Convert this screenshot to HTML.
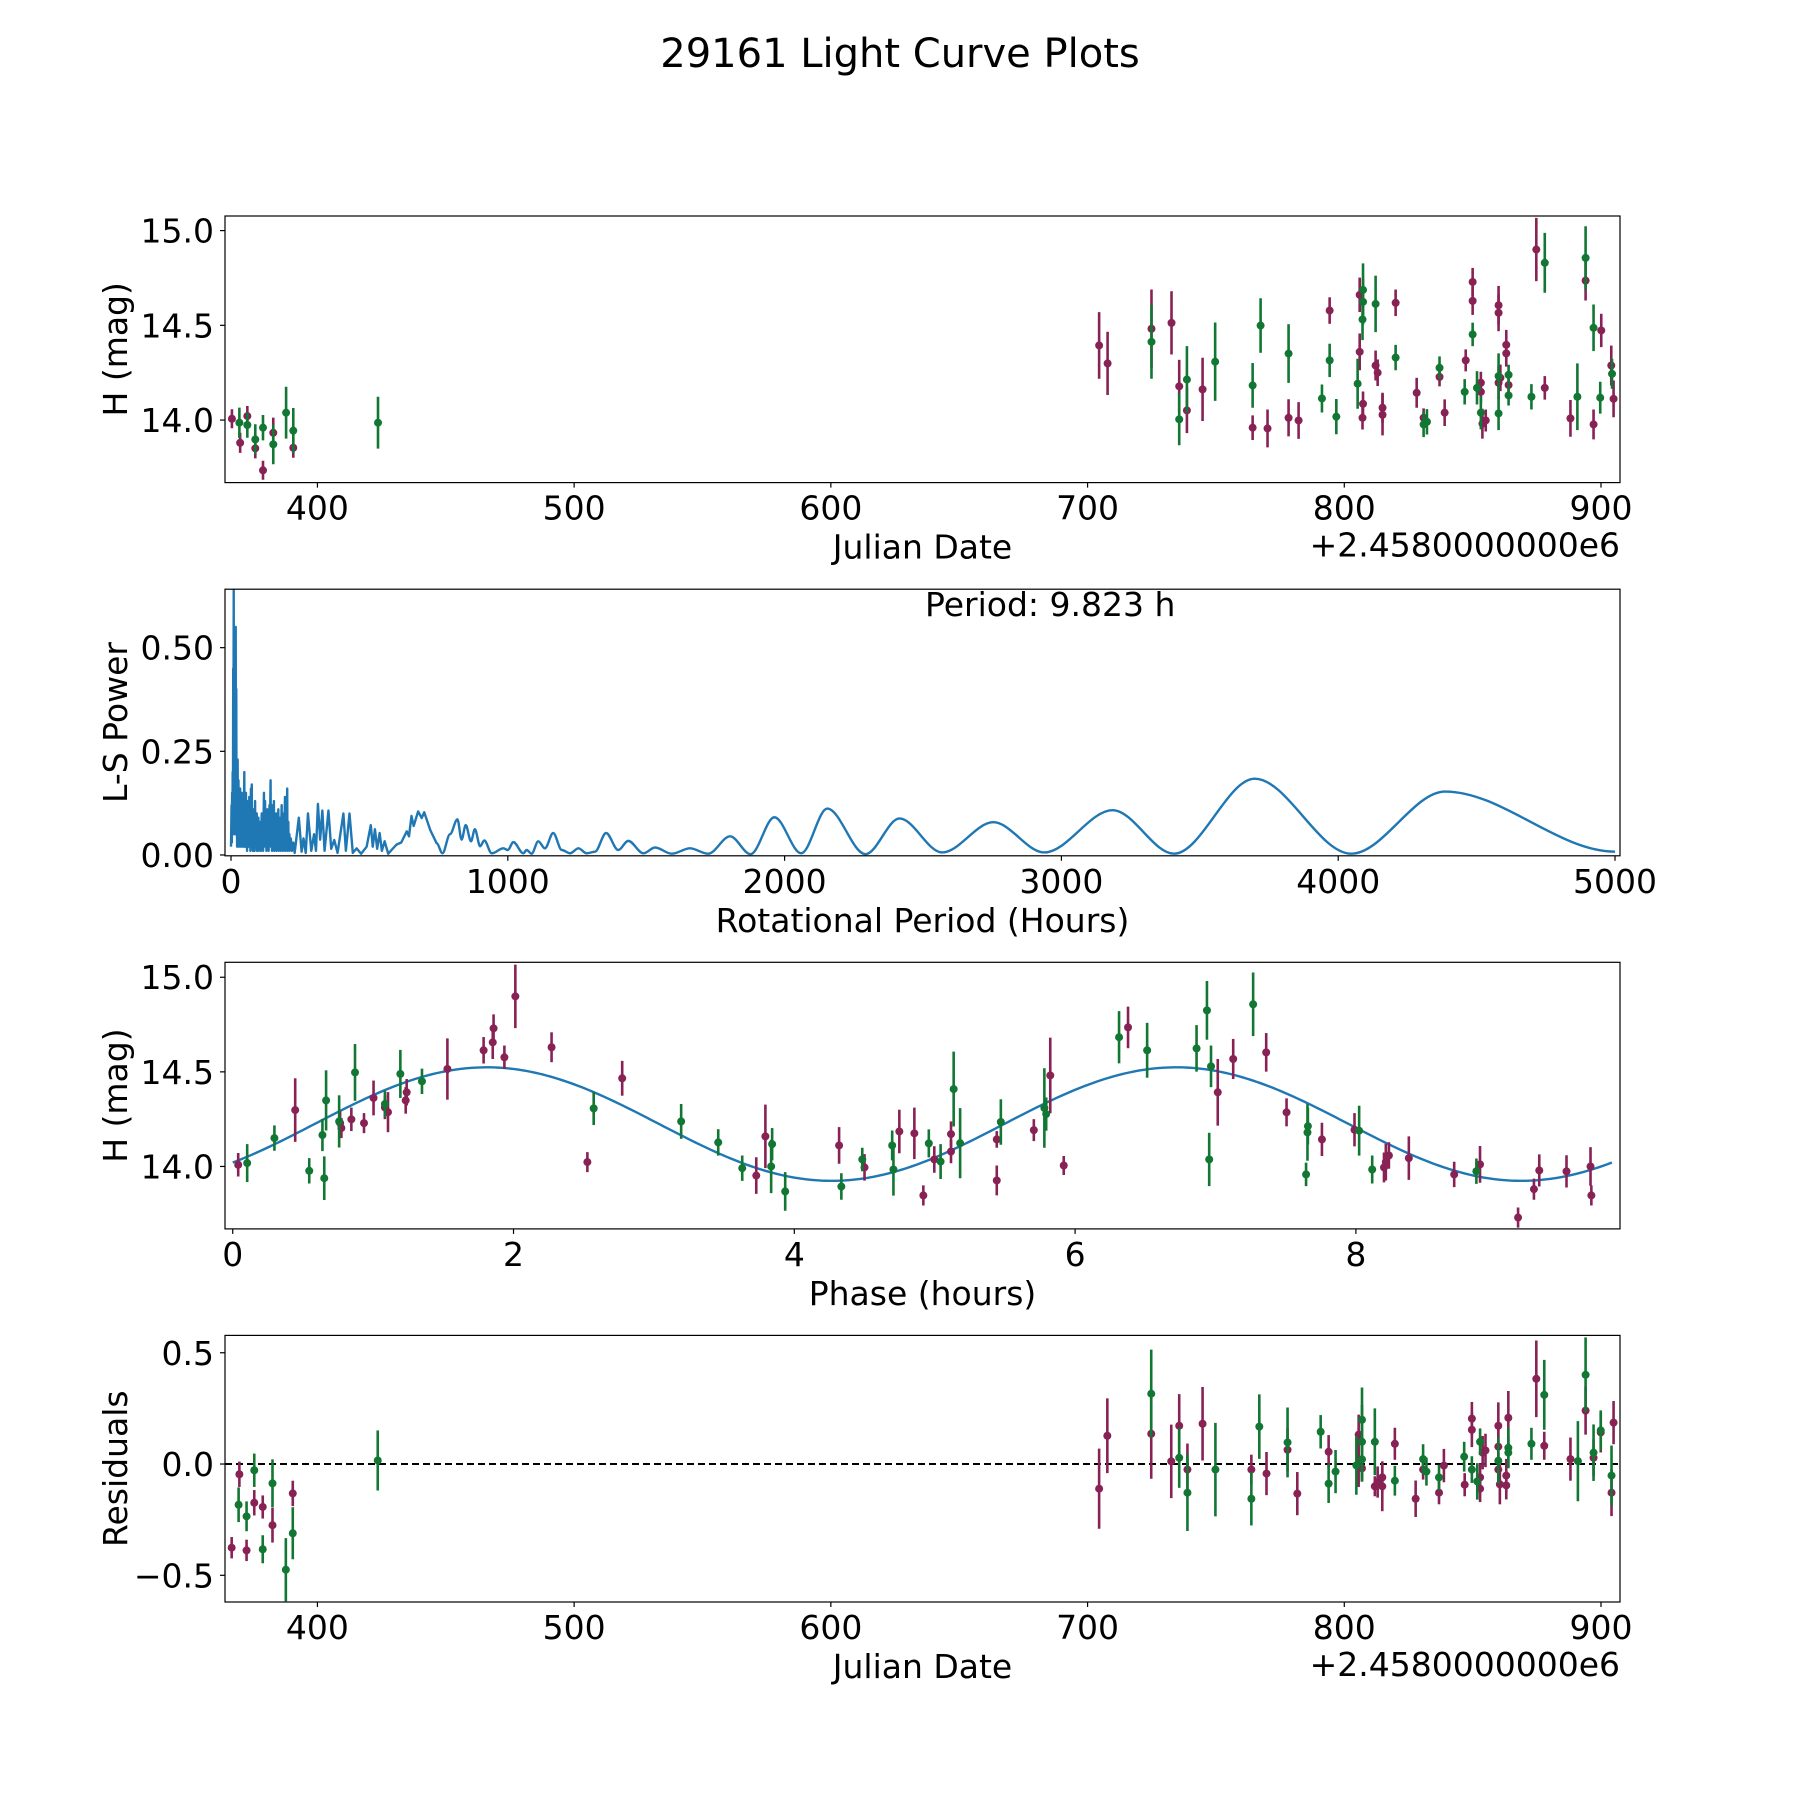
<!DOCTYPE html>
<html><head><meta charset="utf-8"><title>29161 Light Curve Plots</title>
<style>
html,body{margin:0;padding:0;background:#fff;}
svg{display:block;font-family:"DejaVu Sans","Liberation Sans",sans-serif;}
</style></head>
<body>
<svg id="fig" xmlns="http://www.w3.org/2000/svg" width="1800" height="1800" viewBox="0 0 1800 1800">
<rect x="0" y="0" width="1800" height="1800" fill="#fff"/>
<text x="900" y="67" text-anchor="middle" font-size="40" fill="#000">29161 Light Curve Plots</text>
</svg>
<script>
// ---------- Panel 1 : light curve ----------
const lcMaroonDate=[366.7,369.9,372.7,375.8,378.8,382.8,390.6,704.5,707.8,724.9,732.7,735.7,738.7,744.8,764.3,770.1,778.3,782.2,794.3,806.0,806.0,807.3,807.1,812.2,813.0,814.9,814.9,820.0,828.2,830.9,839.1,837.1,847.3,850.0,850.0,853.2,853.2,853.8,855.1,860.1,860.1,860.8,860.1,863.1,863.1,864.0,878.1,874.8,888.1,894.0,897.1,900.1,904.0,904.9];
const lcMaroonMag=[14.007,13.880,14.021,13.851,13.735,13.933,13.854,14.394,14.299,14.482,14.513,14.178,14.051,14.162,13.960,13.956,14.012,13.998,14.578,14.661,14.360,14.086,14.012,14.288,14.250,14.065,14.028,14.619,14.144,14.012,14.039,14.228,14.315,14.729,14.629,14.197,14.149,13.981,13.998,14.606,14.566,14.223,14.197,14.397,14.352,14.185,14.170,14.900,14.009,14.736,13.977,14.473,14.288,14.112];
const lcMaroonErr=[.05,.053,.053,.053,.05,.08,.053,.176,.167,.207,.167,.14,.12,.167,.065,.10,.098,.097,.07,.091,.097,.065,.062,.079,.07,.079,.109,.07,.079,.05,.07,.05,.058,.074,.074,.058,.06,.079,.058,.102,.097,.07,.088,.079,.07,.067,.062,.167,.097,.105,.079,.088,.105,.097];
const lcGreenDate=[369.6,372.7,375.8,378.8,382.8,387.8,390.6,423.6,724.9,735.7,738.7,749.7,764.3,767.4,778.3,791.3,796.9,794.3,807.3,807.3,807.1,805.2,812.2,820.0,830.9,832.2,837.1,846.9,850.0,851.7,853.2,860.1,860.1,864.0,864.0,872.9,878.1,890.8,894.0,897.1,899.7,904.3];
const lcGreenMag=[13.986,13.974,13.898,13.960,13.872,14.039,13.944,13.986,14.413,14.004,14.214,14.308,14.183,14.499,14.351,14.114,14.018,14.315,14.687,14.624,14.531,14.192,14.613,14.330,13.977,13.991,14.276,14.149,14.452,14.170,14.039,14.232,14.035,14.239,14.130,14.123,14.830,14.123,14.856,14.487,14.118,14.244];
const lcGreenErr=[.08,.067,.08,.067,.105,.137,.12,.137,.195,.137,.176,.207,.118,.144,.155,.074,.093,.088,.14,.12,.109,.132,.149,.067,.067,.067,.06,.067,.062,.088,.088,.12,.088,.053,.053,.067,.158,.176,.167,.123,.084,.079];
const dateTicks=[400,500,600,700,800,900];
const magTicks=[14.0,14.5,15.0];
const magTickLabels=["14.0","14.5","15.0"];

// ---------- Panel 2 : periodogram ----------
const pgPeriod=[0,2,3,4,5,6,7,8,9,9.8,10.6,11.5,13,14,15,16,17,18,19,20,21,22,24,25,27,28,30,31,33,34,36,37,39,40,42,43,45,46,48,49,51,52,54,55,57,58,60,61,63,64,66,67,69,70,72,73,75,76,78,79,81,82,84,85,87,88,90,91,93,94,96,97,99,100,103,104,107,108,111,112,115,116,119,120,123,124,127,128,131,132,135,136,139,140,143,144,147,148,151,152,155,156,159,160,163,164,167,168,171,172,175,176,179,180,183,184,187,188,191,192,195,196,199,200,203,204,207,208,211,212,216,220,225,230,245,255,262,270,278,290,300,307,314,322,330,338,352,362,373,385,406,415,428,440,454,470,490,505,512,520,528,537,545,555,568,580,598,615,635,643,652,660,676,689,698,720,743,764,791,818,833,848,867,881,900,915,942,984,1000,1020,1056,1068,1086,1110,1134,1164,1195,1225,1255,1285,1315,1355,1399,1435,1490,1532,1592,1658,1724,1803,1877,1963,2060,2154,2292,2415,2569,2754,2938,3185,3407,3698,4047,4386,5000];
const pgPower=[0.02,0.12,0.03,0.15,0.05,0.2,0.1,0.45,0.3,0.641,0.2,0.05,0.35,0.1,0.25,0.05,0.55,0.1,0.4,0.05,0.22,0.02,0.23,0.03,0.18,0.02,0.14,0.03,0.16,0.02,0.12,0.04,0.15,0.02,0.11,0.03,0.14,0.02,0.2,0.03,0.12,0.02,0.15,0.04,0.1,0.01,0.13,0.03,0.09,0.02,0.14,0.03,0.08,0.01,0.16,0.02,0.17,0.03,0.09,0.01,0.11,0.02,0.06,0.01,0.13,0.02,0.07,0.03,0.1,0.01,0.05,0.02,0.09,0.01,0.06,0.02,0.08,0.01,0.1,0.02,0.06,0.01,0.15,0.02,0.13,0.03,0.08,0.01,0.11,0.02,0.07,0.01,0.12,0.03,0.18,0.02,0.12,0.01,0.1,0.02,0.13,0.01,0.07,0.02,0.1,0.01,0.06,0.02,0.11,0.01,0.09,0.02,0.05,0.01,0.12,0.02,0.08,0.01,0.1,0.02,0.14,0.01,0.07,0.02,0.16,0.01,0.08,0.02,0.05,0.01,0.04,0.01,0.03,0.005,0.09,0.008,0.04,0.005,0.10,0.01,0.05,0.01,0.123,0.037,0.107,0.01,0.107,0.015,0.036,0.005,0.10,0.01,0.10,0.005,0.016,0.003,0.02,0.072,0.02,0.062,0.015,0.053,0.01,0.033,0.003,0.012,0.025,0.03,0.057,0.045,0.094,0.07,0.105,0.089,0.103,0.06,0.028,0.004,0.050,0.086,0.037,0.072,0.033,0.062,0.021,0.035,0.004,0.016,0.012,0.031,0.004,0.012,0.003,0.033,0.016,0.053,0.012,0.004,0.016,0.004,0.008,0.053,0.012,0.034,0.004,0.018,0.003,0.016,0.003,0.045,0.002,0.091,0.004,0.112,0.002,0.088,0.006,0.079,0.006,0.108,0.003,0.184,0.003,0.153,0.008];
const periodTicks=[0,1000,2000,3000,4000,5000];
const powerTicks=[0,0.25,0.5];
const powerTickLabels=["0.00","0.25","0.50"];
const bestPeriod=[9.823];

// ---------- Panel 3 : phased ----------
const phMaroonPhase=[0.039,0.445,0.765,0.774,0.845,0.935,1.003,1.084,1.106,1.232,1.239,1.529,1.787,1.852,1.858,1.935,2.013,2.271,2.526,2.774,3.729,3.794,4.319,4.500,4.748,4.855,4.919,4.997,5.116,5.116,5.442,5.442,5.706,5.823,5.919,6.377,7.016,7.126,7.361,7.506,7.758,7.990,8.200,8.213,8.235,8.377,8.700,8.884,9.155,9.268,9.306,9.500,9.671,9.677];
const phMaroonMag=[14.009,14.298,14.229,14.203,14.249,14.229,14.362,14.312,14.287,14.349,14.392,14.515,14.614,14.656,14.730,14.577,14.899,14.630,14.023,14.466,13.952,14.159,14.111,13.995,14.185,14.175,13.847,14.037,14.171,14.079,14.143,13.926,14.192,14.481,14.005,14.735,14.392,14.568,14.603,14.286,14.143,14.194,13.995,14.023,14.058,14.044,13.958,14.011,13.730,13.880,13.979,13.974,14.000,13.847];
const phMaroonErr=[.062,.168,.062,.053,.062,.053,.092,.062,.106,.07,.07,.162,.07,.088,.074,.062,.168,.079,.053,.092,.097,.168,.097,.07,.115,.136,.053,.07,.067,.062,.044,.079,.058,.2,.05,.11,.176,.106,.102,.074,.088,.088,.079,.097,.07,.115,.067,.097,.053,.056,.085,.085,.102,.053];
const phGreenPhase=[0.103,0.297,0.545,0.639,0.652,0.665,0.758,0.871,1.084,1.194,1.348,2.571,3.194,3.458,3.629,3.842,3.835,3.935,4.335,4.484,4.697,4.706,4.958,5.042,5.135,5.181,5.471,5.781,5.794,6.313,6.513,6.865,6.939,6.968,6.955,7.268,7.658,7.655,7.645,8.023,8.116,8.858];
const phGreenMag=[14.018,14.150,13.977,14.166,13.938,14.349,14.238,14.497,14.330,14.489,14.450,14.307,14.238,14.127,13.991,14.118,14.000,13.868,13.894,14.037,14.111,13.984,14.122,14.026,14.409,14.123,14.235,14.309,14.277,14.683,14.614,14.624,14.825,14.529,14.037,14.857,14.213,14.180,13.958,14.189,13.984,13.975];
const phGreenErr=[.10,.067,.067,.085,.115,.159,.138,.15,.07,.127,.067,.088,.092,.07,.067,.085,.141,.102,.07,.062,.079,.138,.074,.092,.198,.185,.12,.21,.088,.138,.145,.123,.155,.11,.141,.168,.097,.15,.062,.132,.074,.067];
const phaseTicks=[0,2,4,6,8];
const fitMean=[14.224];
const fitAmp=[0.300];
const fitPeakPhase=[1.81];

// ---------- Panel 4 : residuals ----------
const rsMaroonDate=[366.6,369.6,372.4,375.4,378.7,382.5,390.4,704.5,707.7,724.8,732.6,735.7,738.9,744.8,763.8,769.7,777.9,781.7,793.9,805.6,805.6,806.9,811.9,813.0,814.8,814.8,819.7,827.8,830.7,836.9,838.8,846.9,849.7,849.7,852.9,852.9,853.9,855.0,860.0,860.0,860.0,860.6,863.1,863.1,863.9,874.8,877.9,888.1,894.0,897.1,899.9,904.1,904.9];
const rsMaroonRes=[-0.376,-0.046,-0.388,-0.174,-0.193,-0.275,-0.132,-0.111,0.127,0.136,0.012,0.172,-0.025,0.181,-0.025,-0.043,0.064,-0.133,0.055,0.132,-0.013,-0.019,-0.100,-0.081,-0.060,-0.100,0.091,-0.156,-0.025,-0.129,-0.007,-0.093,0.204,0.154,-0.060,-0.111,0.051,0.061,0.172,0.078,-0.025,-0.091,-0.052,-0.096,0.208,0.383,0.082,0.022,0.240,0.028,0.142,-0.129,0.186];
const rsMaroonErr=[.048,.057,.048,.057,.052,.078,.057,.18,.168,.202,.165,.142,.117,.165,.067,.097,.097,.097,.075,.09,.09,.06,.045,.07,.067,.112,.072,.082,.045,.052,.075,.052,.075,.078,.063,.06,.075,.075,.105,.105,.075,.09,.075,.063,.12,.172,.063,.097,.108,.082,.09,.105,.097];
const rsGreenDate=[369.3,372.4,375.4,378.7,382.5,387.7,390.4,423.5,724.8,735.7,738.9,749.8,763.8,766.9,777.9,790.8,793.9,796.6,806.9,806.9,806.9,804.7,811.9,819.7,830.7,832.0,836.9,846.7,849.7,851.8,852.9,860.0,863.9,863.9,872.9,877.9,891.0,894.0,897.1,899.9,904.1];
const rsGreenRes=[-0.183,-0.235,-0.028,-0.383,-0.087,-0.475,-0.311,0.016,0.316,0.028,-0.129,-0.025,-0.156,0.168,0.097,0.145,-0.088,-0.034,0.199,0.100,0.021,-0.006,0.100,-0.075,0.022,-0.034,-0.060,0.033,-0.025,-0.078,0.100,0.015,0.073,0.051,0.091,0.311,0.013,0.401,0.051,0.151,-0.052];
const rsGreenErr=[.078,.067,.075,.063,.108,.142,.117,.135,.198,.135,.172,.21,.12,.145,.157,.075,.087,.097,.145,.165,.1,.132,.15,.067,.067,.063,.057,.067,.06,.082,.06,.105,.09,.07,.072,.157,.18,.168,.127,.09,.135];
const resTicks=[-0.5,0.0,0.5];
const resTickLabels=["\u22120.5","0.0","0.5"];

// ---------- rendering ----------
const NS="http://www.w3.org/2000/svg";
const svg=document.getElementById('fig');
const MAROON="#882255", GREEN="#117733", BLUE="#1f77b4";
const AX=[
 {x0:225,y0:216,w:1395,h:266.6,xmin:364.0,xmax:907.4,ymin:13.670,ymax:15.077,name:'light-curve'},
 {x0:225,y0:589.2,w:1395,h:266.6,xmin:-21.7,xmax:5018,ymin:-0.002,ymax:0.641,name:'periodogram'},
 {x0:225,y0:962.3,w:1395,h:266.6,xmin:-0.055,xmax:9.881,ymin:13.670,ymax:15.079,name:'phased-curve'},
 {x0:225,y0:1335.4,w:1395,h:266.6,xmin:364.0,xmax:907.4,ymin:-0.620,ymax:0.578,name:'residuals'}
];
function sx(a,v){return a.x0+(v-a.xmin)/(a.xmax-a.xmin)*a.w;}
function sy(a,v){return a.y0+a.h-(v-a.ymin)/(a.ymax-a.ymin)*a.h;}
function el(tag,parent){const e=document.createElementNS(NS,tag);parent.appendChild(e);return e;}

const defs=el('defs',svg);
AX.forEach((a,i)=>{
  const cp=el('clipPath',defs); cp.setAttribute('id','clip'+i);
  const r=el('rect',cp); r.setAttribute('x',a.x0); r.setAttribute('y',a.y0); r.setAttribute('width',a.w); r.setAttribute('height',a.h);
  a.g=el('g',svg);
  
  
  a.plot=el('g',a.g); a.plot.setAttribute('clip-path','url(#clip'+i+')');
  
  
});

function frame(a){
  const r=el('rect',a.g);
  r.setAttribute('x',a.x0); r.setAttribute('y',a.y0); r.setAttribute('width',a.w); r.setAttribute('height',a.h);
  r.setAttribute('fill','none'); r.setAttribute('stroke','#000'); r.setAttribute('stroke-width','1.2');
  
  
}
function xTicks(a,vals,labels){
  vals.forEach((v,i)=>{
    const x=sx(a,v), yb=a.y0+a.h;
    const t=el('line',a.g); t.setAttribute('x1',x); t.setAttribute('x2',x); t.setAttribute('y1',yb); t.setAttribute('y2',yb+5);
    t.setAttribute('stroke','#000'); t.setAttribute('stroke-width','1.2');
    
    
    const tx=el('text',a.g); tx.setAttribute('x',x); tx.setAttribute('y',yb+37); tx.setAttribute('text-anchor','middle'); tx.setAttribute('font-size','33');
    tx.textContent=labels?labels[i]:String(v);
    
    
  });
}
function yTicks(a,vals,labels){
  vals.forEach((v,i)=>{
    const y=sy(a,v);
    const t=el('line',a.g); t.setAttribute('x1',a.x0-5); t.setAttribute('x2',a.x0); t.setAttribute('y1',y); t.setAttribute('y2',y);
    t.setAttribute('stroke','#000'); t.setAttribute('stroke-width','1.2');
    
    
    const tx=el('text',a.g); tx.setAttribute('x',a.x0-11); tx.setAttribute('y',y+12); tx.setAttribute('text-anchor','end'); tx.setAttribute('font-size','33');
    tx.textContent=labels[i];
    
    
  });
}
function xLabel(a,txt){
  const tx=el('text',a.g); tx.setAttribute('x',a.x0+a.w/2); tx.setAttribute('y',a.y0+a.h+76); tx.setAttribute('text-anchor','middle'); tx.setAttribute('font-size','33');
  tx.textContent=txt;
  
  
}
function yLabel(a,txt){
  const cx=127, cy=a.y0+a.h/2;
  const tx=el('text',a.g); tx.setAttribute('x',cx); tx.setAttribute('y',cy); tx.setAttribute('text-anchor','middle');
  tx.setAttribute('transform','rotate(-90 '+cx+' '+cy+')'); tx.setAttribute('font-size','33');
  tx.textContent=txt;
  
  
}
function offsetText(a){
  const tx=el('text',a.g); tx.setAttribute('x',a.x0+a.w); tx.setAttribute('y',a.y0+a.h+74); tx.setAttribute('text-anchor','end'); tx.setAttribute('font-size','33');
  tx.textContent='+2.4580000000e6';
  
  
}
function errPoints(a,xs,ys,es,color,label){
  xs.forEach((xv,i)=>{
    const x=sx(a,xv), y=sy(a,ys[i]);
    const l=el('line',a.plot); l.setAttribute('x1',x); l.setAttribute('x2',x);
    l.setAttribute('y1',sy(a,ys[i]-es[i])); l.setAttribute('y2',sy(a,ys[i]+es[i]));
    l.setAttribute('stroke',color); l.setAttribute('stroke-width','2.6');
    
    
  });
  xs.forEach((xv,i)=>{
    const c=el('circle',a.plot); c.setAttribute('cx',sx(a,xv)); c.setAttribute('cy',sy(a,ys[i])); c.setAttribute('r','4');
    c.setAttribute('fill',color);
    
    
  });
}

// Panel 1
const a1=AX[0];
errPoints(a1,lcMaroonDate,lcMaroonMag,lcMaroonErr,MAROON,'filter-1');
errPoints(a1,lcGreenDate,lcGreenMag,lcGreenErr,GREEN,'filter-2');
frame(a1); xTicks(a1,dateTicks); yTicks(a1,magTicks,magTickLabels);
xLabel(a1,'Julian Date'); yLabel(a1,'H (mag)'); offsetText(a1);

// Panel 2
const a2=AX[1];
(function(){
  let d='M'+sx(a2,pgPeriod[0]).toFixed(2)+','+sy(a2,pgPower[0]).toFixed(2);
  for(let i=1;i<pgPeriod.length;i++){
    const x0=sx(a2,pgPeriod[i-1]),y0=sy(a2,pgPower[i-1]),x1=sx(a2,pgPeriod[i]),y1=sy(a2,pgPower[i]);
    if(pgPeriod[i-1]>=740){
      const dx=(x1-x0)/3;
      d+=' C'+(x0+dx).toFixed(2)+','+y0.toFixed(2)+' '+(x1-dx).toFixed(2)+','+y1.toFixed(2)+' '+x1.toFixed(2)+','+y1.toFixed(2);
    } else d+=' L'+x1.toFixed(2)+','+y1.toFixed(2);
  }
  const p=el('path',a2.plot); p.setAttribute('d',d); p.setAttribute('fill','none'); p.setAttribute('stroke',BLUE); p.setAttribute('stroke-width','2.4'); p.setAttribute('stroke-linejoin','round');
  
  
})();
frame(a2); xTicks(a2,periodTicks); yTicks(a2,powerTicks,powerTickLabels);
xLabel(a2,'Rotational Period (Hours)'); yLabel(a2,'L-S Power');
(function(){
  const tx=el('text',a2.g); tx.setAttribute('x',925); tx.setAttribute('y',616); tx.setAttribute('font-size','33');
  tx.textContent='Period: '+bestPeriod[0].toFixed(3)+' h';
  
  
})();

// Panel 3
const a3=AX[2];
(function(){
  const per=bestPeriod[0], half=per/2;
  let d='';
  for(let k=0;k<=400;k++){
    const ph=per*k/400;
    const m=fitMean[0]+fitAmp[0]*Math.cos(2*Math.PI*(ph-fitPeakPhase[0])/half);
    d+=(k?' L':'M')+sx(a3,ph).toFixed(2)+','+sy(a3,m).toFixed(2);
  }
  const p=el('path',a3.plot); p.setAttribute('d',d); p.setAttribute('fill','none'); p.setAttribute('stroke',BLUE); p.setAttribute('stroke-width','2.4');
  
  
})();
errPoints(a3,phMaroonPhase,phMaroonMag,phMaroonErr,MAROON,'filter-1-phased');
errPoints(a3,phGreenPhase,phGreenMag,phGreenErr,GREEN,'filter-2-phased');
frame(a3); xTicks(a3,phaseTicks); yTicks(a3,magTicks,magTickLabels);
xLabel(a3,'Phase (hours)'); yLabel(a3,'H (mag)');

// Panel 4
const a4=AX[3];
(function(){
  const l=el('line',a4.plot); l.setAttribute('x1',a4.x0); l.setAttribute('x2',a4.x0+a4.w); l.setAttribute('y1',sy(a4,0)); l.setAttribute('y2',sy(a4,0));
  l.setAttribute('stroke','#000'); l.setAttribute('stroke-width','2'); l.setAttribute('stroke-dasharray','7,4');
  
  
})();
errPoints(a4,rsMaroonDate,rsMaroonRes,rsMaroonErr,MAROON,'filter-1-residual');
errPoints(a4,rsGreenDate,rsGreenRes,rsGreenErr,GREEN,'filter-2-residual');
frame(a4); xTicks(a4,dateTicks); yTicks(a4,resTicks,resTickLabels);
xLabel(a4,'Julian Date'); yLabel(a4,'Residuals'); offsetText(a4);
</script>
</body></html>
